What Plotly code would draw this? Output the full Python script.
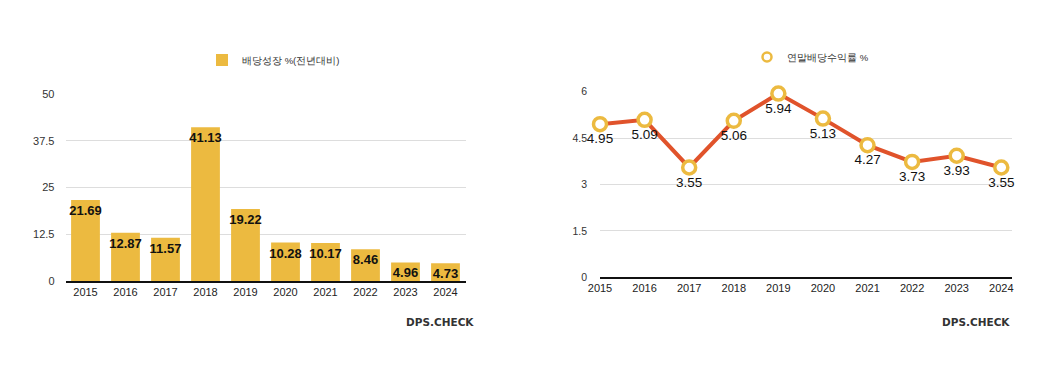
import plotly.graph_objects as go

years = ["2015", "2016", "2017", "2018", "2019", "2020", "2021", "2022", "2023", "2024"]
div_growth = [21.69, 12.87, 11.57, 41.13, 19.22, 10.28, 10.17, 8.46, 4.96, 4.73]
div_yield = [4.95, 5.09, 3.55, 5.06, 5.94, 5.13, 4.27, 3.73, 3.93, 3.55]
left_ticks = [0, 12.5, 25, 37.5, 50]
right_ticks = [0, 1.5, 3, 4.5, 6]
growth_name = "배당성장 %(전년대비)"
yield_name = "연말배당수익률 %"
watermark = "DPS.CHECK"

OFF = 8  # default page body margin
W, H = 1042 - 2 * OFF, 375 - 2 * OFF
FONT = "Arial, Liberation Sans, Helvetica, sans-serif"
BAR_COLOR = "#ECBA40"
LINE_COLOR = "#E0532B"

fig = go.Figure()

fig.add_trace(go.Bar(
    x=years, y=div_growth, name=growth_name,
    marker=dict(color=BAR_COLOR, line=dict(width=0)),
    text=[f"{v:.2f}" for v in div_growth],
    textposition="inside", insidetextanchor="end", constraintext="none",
    textangle=0, cliponaxis=False,
    insidetextfont=dict(family=FONT, size=13, color="#111111", weight="bold"),
    xaxis="x", yaxis="y", legend="legend", showlegend=True,
))

fig.add_trace(go.Scatter(
    x=years, y=div_yield, name=yield_name, mode="lines+markers+text",
    line=dict(color=LINE_COLOR, width=4),
    marker=dict(size=13, color="white", line=dict(color=BAR_COLOR, width=3.5)),
    text=[f"{v:.2f}" for v in div_yield], textposition="bottom center",
    textfont=dict(family=FONT, size=13.5, color="#111111"),
    cliponaxis=False,
    xaxis="x2", yaxis="y2", showlegend=False,
))

# legend-only entry (marker only, like the reference legend)
fig.add_trace(go.Scatter(
    x=[None], y=[None], name=yield_name, mode="markers",
    marker=dict(size=9, color="white", line=dict(color=BAR_COLOR, width=2.5)),
    xaxis="x2", yaxis="y2", legend="legend2", showlegend=True,
))


def px_x(p):
    return (p - OFF) / W


def px_y(p):
    return 1 - (p - OFF) / H


fig.update_layout(
    width=W, height=H, margin=dict(l=0, r=0, t=0, b=0, autoexpand=False),
    paper_bgcolor="white", plot_bgcolor="white",
    font=dict(family=FONT, size=11, color="#333333"),
    bargap=0.28,
    xaxis=dict(domain=[px_x(65.5), px_x(465.5)], type="category", automargin=False,
               showline=True, linecolor="#111111", linewidth=1.5,
               ticks="", showgrid=False, tickfont=dict(size=11, color="#222222"),
               anchor="y"),
    yaxis=dict(domain=[px_y(281), px_y(94)], range=[0, 50], automargin=False,
               tickvals=left_ticks, ticktext=[f"{v:g}" for v in left_ticks],
               showgrid=True, gridcolor="#DDDDDD", gridwidth=1,
               zeroline=False, showline=False, ticks="", ticklabelstandoff=10,
               tickfont=dict(size=11, color="#333333"), anchor="x"),
    xaxis2=dict(domain=[px_x(600), px_x(1012)], type="category", automargin=False,
                range=[0, 9.24],
                showline=True, linecolor="#111111", linewidth=1.5,
                ticks="", showgrid=False, tickfont=dict(size=11, color="#222222"),
                anchor="y2"),
    yaxis2=dict(domain=[px_y(277.3), px_y(91.7)], range=[0, 6], automargin=False,
                tickvals=right_ticks, ticktext=[f"{v:g}" for v in right_ticks],
                showgrid=True, gridcolor="#DDDDDD", gridwidth=1,
                zeroline=False, showline=False, ticks="", ticklabelstandoff=12,
                tickfont=dict(size=10.5, color="#333333"), anchor="x2"),
    legend=dict(x=px_x(202), y=px_y(60), xanchor="left", yanchor="middle",
                orientation="h", font=dict(size=9.5, color="#333333"),
                bgcolor="rgba(0,0,0,0)", itemwidth=30),
    legend2=dict(x=px_x(747), y=px_y(57), xanchor="left", yanchor="middle",
                 orientation="h", font=dict(size=9.5, color="#333333"),
                 bgcolor="rgba(0,0,0,0)", itemwidth=30),
)

for cx in (440, 976):
    fig.add_annotation(x=px_x(cx), y=px_y(322), xref="paper", yref="paper",
                       xanchor="center", yanchor="middle",
                       text=watermark, showarrow=False,
                       font=dict(family="DejaVu Sans, sans-serif", weight="bold",
                                 size=10.5, color="#333333"))

fig.write_html("out.html")
